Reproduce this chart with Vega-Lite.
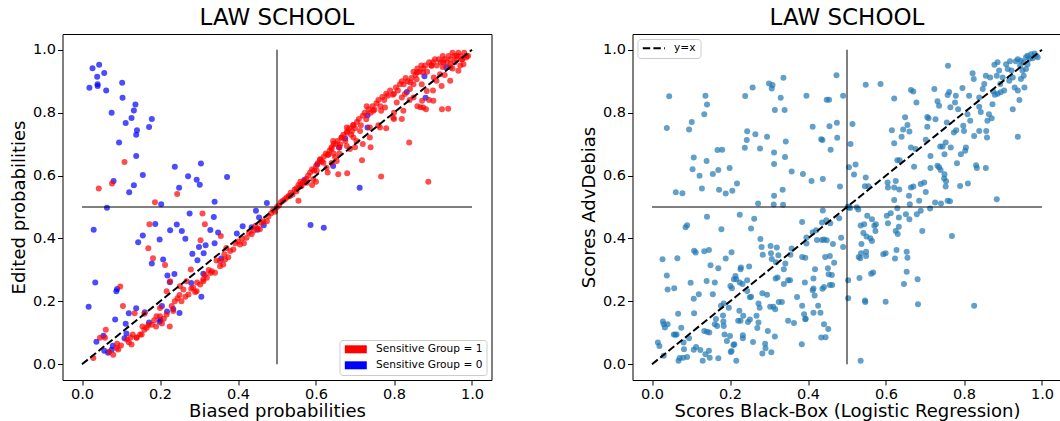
{
"$schema": "https://vega.github.io/schema/vega-lite/v6.json",
"padding": {"left": 9.5, "top": 6, "right": 0, "bottom": 0},
"background": "white",
"spacing": 87,
"config": {
 "font": "DejaVu Sans",
 "view": {"stroke": "black", "strokeWidth": 1},
 "axis": {"grid": false, "domain": false, "tickColor": "black", "tickSize": 5, "tickWidth": 1, "labelColor": "black", "labelFontSize": 14.5, "titleFontSize": 18, "titleFontWeight": "normal", "titleColor": "black", "labelPadding": 2},
 "axisX": {"titlePadding": 2},
 "title": {"fontSize": 23, "fontWeight": "normal", "color": "black", "offset": 4},
 "legend": {"title": null, "fillColor": "white", "strokeColor": "#cccccc", "cornerRadius": 3, "padding": 4, "labelFontSize": 10.6, "labelColor": "black", "symbolOpacity": 1, "rowPadding": 5, "labelOffset": 22}
},
"datasets": {
 "vline": [{"x": 0.5, "y": 0, "y2": 1}],
 "hline": [{"y": 0.5, "x": 0, "x2": 1}],
 "diag": [{"x": 0, "y": 0, "label": "y=x"}, {"x": 1, "y": 1, "label": "y=x"}],
 "left": [
{"x":0.027,"y":0.941,"group":0},{"x":0.044,"y":0.952,"group":0},{"x":0.039,"y":0.914,"group":0},{"x":0.057,"y":0.926,"group":0},{"x":0.019,"y":0.879,"group":0},{"x":0.040,"y":0.890,"group":0},{"x":0.040,"y":0.885,"group":0},{"x":0.062,"y":0.870,"group":0},{"x":0.103,"y":0.895,"group":0},{"x":0.104,"y":0.847,"group":0},{"x":0.076,"y":0.800,"group":0},{"x":0.137,"y":0.826,"group":0},{"x":0.133,"y":0.807,"group":0},{"x":0.127,"y":0.783,"group":0},{"x":0.112,"y":0.767,"group":0},{"x":0.141,"y":0.744,"group":0},{"x":0.139,"y":0.730,"group":0},{"x":0.179,"y":0.780,"group":0},{"x":0.172,"y":0.754,"group":0},{"x":0.095,"y":0.705,"group":0},{"x":0.139,"y":0.662,"group":0},{"x":0.156,"y":0.602,"group":0},{"x":0.133,"y":0.569,"group":0},{"x":0.121,"y":0.547,"group":0},{"x":0.081,"y":0.583,"group":0},{"x":0.064,"y":0.498,"group":0},{"x":0.030,"y":0.428,"group":0},{"x":0.034,"y":0.260,"group":0},{"x":0.017,"y":0.183,"group":0},{"x":0.238,"y":0.628,"group":0},{"x":0.249,"y":0.561,"group":0},{"x":0.272,"y":0.598,"group":0},{"x":0.294,"y":0.587,"group":0},{"x":0.302,"y":0.571,"group":0},{"x":0.305,"y":0.638,"group":0},{"x":0.340,"y":0.517,"group":0},{"x":0.372,"y":0.595,"group":0},{"x":0.203,"y":0.509,"group":0},{"x":0.276,"y":0.479,"group":0},{"x":0.243,"y":0.444,"group":0},{"x":0.226,"y":0.426,"group":0},{"x":0.256,"y":0.424,"group":0},{"x":0.265,"y":0.399,"group":0},{"x":0.329,"y":0.427,"group":0},{"x":0.338,"y":0.468,"group":0},{"x":0.349,"y":0.419,"group":0},{"x":0.188,"y":0.446,"group":0},{"x":0.199,"y":0.397,"group":0},{"x":0.156,"y":0.409,"group":0},{"x":0.144,"y":0.388,"group":0},{"x":0.208,"y":0.333,"group":0},{"x":0.179,"y":0.320,"group":0},{"x":0.283,"y":0.351,"group":0},{"x":0.300,"y":0.373,"group":0},{"x":0.317,"y":0.378,"group":0},{"x":0.340,"y":0.385,"group":0},{"x":0.312,"y":0.353,"group":0},{"x":0.357,"y":0.336,"group":0},{"x":0.296,"y":0.331,"group":0},{"x":0.219,"y":0.282,"group":0},{"x":0.237,"y":0.287,"group":0},{"x":0.225,"y":0.261,"group":0},{"x":0.280,"y":0.258,"group":0},{"x":0.306,"y":0.215,"group":0},{"x":0.311,"y":0.288,"group":0},{"x":0.090,"y":0.239,"group":0},{"x":0.088,"y":0.232,"group":0},{"x":0.139,"y":0.178,"group":0},{"x":0.120,"y":0.162,"group":0},{"x":0.161,"y":0.165,"group":0},{"x":0.205,"y":0.185,"group":0},{"x":0.218,"y":0.168,"group":0},{"x":0.234,"y":0.176,"group":0},{"x":0.250,"y":0.163,"group":0},{"x":0.201,"y":0.141,"group":0},{"x":0.199,"y":0.135,"group":0},{"x":0.172,"y":0.133,"group":0},{"x":0.085,"y":0.142,"group":0},{"x":0.112,"y":0.129,"group":0},{"x":0.114,"y":0.098,"group":0},{"x":0.109,"y":0.083,"group":0},{"x":0.055,"y":0.091,"group":0},{"x":0.037,"y":0.072,"group":0},{"x":0.057,"y":0.043,"group":0},{"x":0.067,"y":0.037,"group":0},{"x":0.076,"y":0.046,"group":0},{"x":0.079,"y":0.059,"group":0},{"x":0.397,"y":0.416,"group":0},{"x":0.412,"y":0.439,"group":0},{"x":0.446,"y":0.488,"group":0},{"x":0.474,"y":0.513,"group":0},{"x":0.450,"y":0.428,"group":0},{"x":0.435,"y":0.436,"group":0},{"x":0.466,"y":0.442,"group":0},{"x":0.454,"y":0.467,"group":0},{"x":0.586,"y":0.443,"group":0},{"x":0.620,"y":0.434,"group":0},{"x":0.570,"y":0.586,"group":0},{"x":0.603,"y":0.635,"group":0},{"x":0.644,"y":0.630,"group":0},{"x":0.659,"y":0.689,"group":0},{"x":0.675,"y":0.718,"group":0},{"x":0.712,"y":0.561,"group":0},{"x":0.732,"y":0.792,"group":0},{"x":0.833,"y":0.866,"group":0},{"x":0.878,"y":0.916,"group":0},{"x":0.881,"y":0.847,"group":0},{"x":0.934,"y":0.944,"group":0},{"x":0.732,"y":0.753,"group":0},
{"x":0.109,"y":0.643,"group":1},{"x":0.043,"y":0.559,"group":1},{"x":0.077,"y":0.575,"group":1},{"x":0.187,"y":0.515,"group":1},{"x":0.244,"y":0.541,"group":1},{"x":0.309,"y":0.479,"group":1},{"x":0.315,"y":0.445,"group":1},{"x":0.173,"y":0.445,"group":1},{"x":0.170,"y":0.369,"group":1},{"x":0.182,"y":0.337,"group":1},{"x":0.213,"y":0.316,"group":1},{"x":0.304,"y":0.394,"group":1},{"x":0.356,"y":0.408,"group":1},{"x":0.279,"y":0.301,"group":1},{"x":0.098,"y":0.247,"group":1},{"x":0.105,"y":0.185,"group":1},{"x":0.135,"y":0.162,"group":1},{"x":0.160,"y":0.161,"group":1},
{"x":0.029,"y":0.020,"group":1},{"x":0.046,"y":0.084,"group":1},{"x":0.061,"y":0.110,"group":1},{"x":0.070,"y":0.040,"group":1},{"x":0.080,"y":0.030,"group":1},{"x":0.093,"y":0.047,"group":1},{"x":0.090,"y":0.065,"group":1},{"x":0.100,"y":0.060,"group":1},{"x":0.115,"y":0.079,"group":1},{"x":0.120,"y":0.070,"group":1},{"x":0.125,"y":0.085,"group":1},{"x":0.130,"y":0.095,"group":1},{"x":0.140,"y":0.085,"group":1},{"x":0.149,"y":0.095,"group":1},{"x":0.155,"y":0.120,"group":1},{"x":0.160,"y":0.110,"group":1},{"x":0.170,"y":0.125,"group":1},{"x":0.179,"y":0.126,"group":1},{"x":0.185,"y":0.140,"group":1},{"x":0.190,"y":0.120,"group":1},{"x":0.200,"y":0.153,"group":1},{"x":0.205,"y":0.130,"group":1},{"x":0.210,"y":0.145,"group":1},{"x":0.217,"y":0.158,"group":1},{"x":0.225,"y":0.120,"group":1},{"x":0.230,"y":0.185,"group":1},{"x":0.234,"y":0.169,"group":1},{"x":0.238,"y":0.200,"group":1},{"x":0.245,"y":0.210,"group":1},{"x":0.250,"y":0.220,"group":1},{"x":0.255,"y":0.200,"group":1},{"x":0.260,"y":0.238,"group":1},{"x":0.265,"y":0.215,"group":1},{"x":0.273,"y":0.222,"group":1},{"x":0.280,"y":0.240,"group":1},{"x":0.285,"y":0.243,"group":1},{"x":0.290,"y":0.230,"group":1},{"x":0.295,"y":0.260,"group":1},{"x":0.303,"y":0.254,"group":1},{"x":0.311,"y":0.264,"group":1},{"x":0.315,"y":0.285,"group":1},{"x":0.320,"y":0.275,"group":1},{"x":0.325,"y":0.300,"group":1},{"x":0.330,"y":0.290,"group":1},{"x":0.341,"y":0.291,"group":1},{"x":0.345,"y":0.330,"group":1},{"x":0.354,"y":0.312,"group":1},{"x":0.362,"y":0.317,"group":1},{"x":0.365,"y":0.350,"group":1},{"x":0.370,"y":0.370,"group":1},{"x":0.375,"y":0.340,"group":1},{"x":0.380,"y":0.360,"group":1},{"x":0.388,"y":0.365,"group":1},{"x":0.393,"y":0.385,"group":1},{"x":0.400,"y":0.390,"group":1},{"x":0.405,"y":0.381,"group":1},{"x":0.410,"y":0.400,"group":1},{"x":0.415,"y":0.385,"group":1},{"x":0.422,"y":0.402,"group":1},{"x":0.428,"y":0.418,"group":1},{"x":0.435,"y":0.413,"group":1},{"x":0.440,"y":0.425,"group":1},{"x":0.445,"y":0.440,"group":1},{"x":0.450,"y":0.432,"group":1},{"x":0.456,"y":0.429,"group":1},{"x":0.460,"y":0.450,"group":1},{"x":0.465,"y":0.455,"group":1},{"x":0.474,"y":0.455,"group":1},{"x":0.478,"y":0.470,"group":1},{"x":0.485,"y":0.480,"group":1},{"x":0.490,"y":0.490,"group":1},{"x":0.495,"y":0.485,"group":1},
{"x":0.226,"y":0.264,"group":1},{"x":0.251,"y":0.248,"group":1},{"x":0.268,"y":0.264,"group":1},{"x":0.294,"y":0.232,"group":1},{"x":0.311,"y":0.270,"group":1},{"x":0.333,"y":0.296,"group":1},{"x":0.354,"y":0.328,"group":1},{"x":0.367,"y":0.333,"group":1},{"x":0.217,"y":0.232,"group":1},{"x":0.200,"y":0.179,"group":1},{"x":0.191,"y":0.153,"group":1},{"x":0.166,"y":0.116,"group":1},{"x":0.153,"y":0.095,"group":1},{"x":0.140,"y":0.084,"group":1},{"x":0.127,"y":0.063,"group":1},{"x":0.089,"y":0.052,"group":1},{"x":0.059,"y":0.084,"group":1},
{"x":0.500,"y":0.500,"group":1},{"x":0.505,"y":0.505,"group":1},{"x":0.510,"y":0.515,"group":1},{"x":0.515,"y":0.520,"group":1},{"x":0.520,"y":0.525,"group":1},{"x":0.525,"y":0.530,"group":1},{"x":0.530,"y":0.535,"group":1},{"x":0.535,"y":0.545,"group":1},{"x":0.540,"y":0.540,"group":1},{"x":0.545,"y":0.555,"group":1},{"x":0.550,"y":0.560,"group":1},{"x":0.550,"y":0.550,"group":1},{"x":0.555,"y":0.570,"group":1},{"x":0.560,"y":0.565,"group":1},{"x":0.560,"y":0.580,"group":1},{"x":0.565,"y":0.575,"group":1},{"x":0.570,"y":0.580,"group":1},{"x":0.575,"y":0.590,"group":1},{"x":0.580,"y":0.600,"group":1},{"x":0.585,"y":0.610,"group":1},{"x":0.590,"y":0.620,"group":1},{"x":0.595,"y":0.615,"group":1},{"x":0.600,"y":0.630,"group":1},{"x":0.605,"y":0.640,"group":1},{"x":0.610,"y":0.650,"group":1},{"x":0.611,"y":0.652,"group":1},{"x":0.615,"y":0.645,"group":1},{"x":0.620,"y":0.660,"group":1},{"x":0.625,"y":0.670,"group":1},{"x":0.630,"y":0.665,"group":1},{"x":0.635,"y":0.680,"group":1},{"x":0.640,"y":0.690,"group":1},{"x":0.645,"y":0.700,"group":1},{"x":0.645,"y":0.670,"group":1},{"x":0.650,"y":0.700,"group":1},{"x":0.655,"y":0.710,"group":1},{"x":0.660,"y":0.690,"group":1},{"x":0.665,"y":0.720,"group":1},{"x":0.670,"y":0.730,"group":1},{"x":0.675,"y":0.710,"group":1},{"x":0.679,"y":0.753,"group":1},{"x":0.680,"y":0.740,"group":1},{"x":0.685,"y":0.750,"group":1},{"x":0.690,"y":0.730,"group":1},{"x":0.695,"y":0.760,"group":1},{"x":0.700,"y":0.750,"group":1},{"x":0.705,"y":0.770,"group":1},{"x":0.710,"y":0.780,"group":1},{"x":0.715,"y":0.760,"group":1},{"x":0.720,"y":0.790,"group":1},{"x":0.725,"y":0.800,"group":1},{"x":0.729,"y":0.779,"group":1},{"x":0.730,"y":0.820,"group":1},{"x":0.735,"y":0.810,"group":1},{"x":0.740,"y":0.800,"group":1},{"x":0.745,"y":0.820,"group":1},{"x":0.750,"y":0.810,"group":1},{"x":0.755,"y":0.830,"group":1},{"x":0.760,"y":0.840,"group":1},{"x":0.765,"y":0.820,"group":1},{"x":0.770,"y":0.850,"group":1},{"x":0.775,"y":0.840,"group":1},{"x":0.780,"y":0.860,"group":1},{"x":0.784,"y":0.854,"group":1},{"x":0.790,"y":0.870,"group":1},{"x":0.800,"y":0.860,"group":1},{"x":0.805,"y":0.880,"group":1},{"x":0.810,"y":0.870,"group":1},{"x":0.815,"y":0.890,"group":1},{"x":0.820,"y":0.900,"group":1},{"x":0.825,"y":0.890,"group":1},{"x":0.830,"y":0.910,"group":1},{"x":0.835,"y":0.900,"group":1},{"x":0.842,"y":0.896,"group":1},{"x":0.845,"y":0.910,"group":1},{"x":0.850,"y":0.930,"group":1},{"x":0.855,"y":0.920,"group":1},{"x":0.859,"y":0.928,"group":1},{"x":0.860,"y":0.940,"group":1},{"x":0.865,"y":0.930,"group":1},{"x":0.870,"y":0.950,"group":1},{"x":0.875,"y":0.940,"group":1},{"x":0.880,"y":0.950,"group":1},{"x":0.885,"y":0.930,"group":1},{"x":0.890,"y":0.960,"group":1},{"x":0.895,"y":0.950,"group":1},{"x":0.900,"y":0.960,"group":1},{"x":0.902,"y":0.912,"group":1},{"x":0.905,"y":0.970,"group":1},{"x":0.910,"y":0.950,"group":1},{"x":0.915,"y":0.970,"group":1},{"x":0.920,"y":0.960,"group":1},{"x":0.925,"y":0.980,"group":1},{"x":0.930,"y":0.970,"group":1},{"x":0.935,"y":0.960,"group":1},{"x":0.940,"y":0.980,"group":1},{"x":0.945,"y":0.970,"group":1},{"x":0.950,"y":0.990,"group":1},{"x":0.955,"y":0.980,"group":1},{"x":0.960,"y":0.970,"group":1},{"x":0.965,"y":0.990,"group":1},{"x":0.970,"y":0.980,"group":1},{"x":0.975,"y":0.970,"group":1},{"x":0.980,"y":0.990,"group":1},{"x":0.990,"y":0.980,"group":1},{"x":0.985,"y":0.975,"group":1},{"x":0.945,"y":0.955,"group":1},{"x":0.925,"y":0.945,"group":1},
{"x":0.797,"y":0.857,"group":1},{"x":0.828,"y":0.859,"group":1},{"x":0.858,"y":0.906,"group":1},{"x":0.874,"y":0.928,"group":1},{"x":0.897,"y":0.949,"group":1},{"x":0.926,"y":0.960,"group":1},{"x":0.961,"y":0.981,"group":1},{"x":0.767,"y":0.806,"group":1},{"x":0.747,"y":0.806,"group":1},{"x":0.692,"y":0.742,"group":1},{"x":0.696,"y":0.761,"group":1},{"x":0.666,"y":0.721,"group":1},{"x":0.640,"y":0.684,"group":1},{"x":0.632,"y":0.667,"group":1},{"x":0.619,"y":0.641,"group":1},{"x":0.602,"y":0.615,"group":1},{"x":0.563,"y":0.567,"group":1},{"x":0.533,"y":0.535,"group":1},{"x":0.649,"y":0.658,"group":1},{"x":0.679,"y":0.694,"group":1},{"x":0.713,"y":0.742,"group":1},{"x":0.738,"y":0.753,"group":1},{"x":0.777,"y":0.816,"group":1},{"x":0.807,"y":0.832,"group":1},{"x":0.820,"y":0.848,"group":1},{"x":0.841,"y":0.875,"group":1},{"x":0.850,"y":0.890,"group":1},{"x":0.871,"y":0.890,"group":1},{"x":0.884,"y":0.869,"group":1},{"x":0.909,"y":0.901,"group":1},{"x":0.918,"y":0.922,"group":1},{"x":0.944,"y":0.944,"group":1},{"x":0.956,"y":0.960,"group":1},{"x":0.974,"y":0.970,"group":1},{"x":0.986,"y":0.981,"group":1},{"x":0.944,"y":0.901,"group":1},{"x":0.965,"y":0.933,"group":1},{"x":0.978,"y":0.954,"group":1},{"x":0.922,"y":0.885,"group":1},{"x":0.901,"y":0.838,"group":1},{"x":0.875,"y":0.816,"group":1},{"x":0.850,"y":0.848,"group":1},{"x":0.824,"y":0.806,"group":1},{"x":0.798,"y":0.784,"group":1},{"x":0.764,"y":0.753,"group":1},{"x":0.738,"y":0.721,"group":1},{"x":0.704,"y":0.710,"group":1},{"x":0.687,"y":0.684,"group":1},{"x":0.653,"y":0.646,"group":1},{"x":0.627,"y":0.625,"group":1},{"x":0.593,"y":0.588,"group":1},{"x":0.576,"y":0.577,"group":1},{"x":0.644,"y":0.710,"group":1},{"x":0.662,"y":0.699,"group":1},{"x":0.696,"y":0.721,"group":1},{"x":0.679,"y":0.736,"group":1},
{"x":0.839,"y":0.705,"group":1},{"x":0.888,"y":0.580,"group":1},{"x":0.767,"y":0.597,"group":1},{"x":0.718,"y":0.649,"group":1},{"x":0.680,"y":0.607,"group":1},{"x":0.657,"y":0.604,"group":1},{"x":0.939,"y":0.812,"group":1},{"x":0.882,"y":0.811,"group":1},{"x":0.868,"y":0.817,"group":1},{"x":0.872,"y":0.838,"group":1},{"x":0.923,"y":0.811,"group":1},{"x":0.630,"y":0.610,"group":1},{"x":0.660,"y":0.670,"group":1},{"x":0.740,"y":0.690,"group":1},{"x":0.720,"y":0.700,"group":1},{"x":0.780,"y":0.750,"group":1},{"x":0.800,"y":0.780,"group":1},{"x":0.820,"y":0.780,"group":1},{"x":0.860,"y":0.820,"group":1},{"x":0.890,"y":0.840,"group":1},{"x":0.900,"y":0.870,"group":1},{"x":0.930,"y":0.920,"group":1},{"x":0.950,"y":0.940,"group":1},{"x":0.970,"y":0.950,"group":1},{"x":0.555,"y":0.520,"group":1},{"x":0.590,"y":0.570,"group":1},{"x":0.600,"y":0.580,"group":1},{"x":0.640,"y":0.640,"group":1},{"x":0.700,"y":0.690,"group":1},{"x":0.760,"y":0.760,"group":1},{"x":0.800,"y":0.800,"group":1},{"x":0.840,"y":0.840,"group":1}
 ],
 "right": [
{"x":0.044,"y":0.852},{"x":0.038,"y":0.751},{"x":0.137,"y":0.854},{"x":0.141,"y":0.826},{"x":0.134,"y":0.795},{"x":0.102,"y":0.770},{"x":0.095,"y":0.746},{"x":0.104,"y":0.620},{"x":0.107,"y":0.657},{"x":0.140,"y":0.646},{"x":0.122,"y":0.599},{"x":0.156,"y":0.605},{"x":0.128,"y":0.559},{"x":0.170,"y":0.618},{"x":0.168,"y":0.681},{"x":0.180,"y":0.682},{"x":0.199,"y":0.624},{"x":0.172,"y":0.555},{"x":0.189,"y":0.543},{"x":0.206,"y":0.552},{"x":0.218,"y":0.575},{"x":0.061,"y":0.547},{"x":0.078,"y":0.544},{"x":0.258,"y":0.880},{"x":0.239,"y":0.853},{"x":0.300,"y":0.893},{"x":0.309,"y":0.888},{"x":0.307,"y":0.877},{"x":0.337,"y":0.911},{"x":0.330,"y":0.847},{"x":0.315,"y":0.808},{"x":0.340,"y":0.808},{"x":0.244,"y":0.741},{"x":0.243,"y":0.713},{"x":0.265,"y":0.731},{"x":0.295,"y":0.723},{"x":0.238,"y":0.688},{"x":0.277,"y":0.686},{"x":0.313,"y":0.673},{"x":0.343,"y":0.708},{"x":0.341,"y":0.659},{"x":0.313,"y":0.637},{"x":0.358,"y":0.613},{"x":0.335,"y":0.555},{"x":0.313,"y":0.536},{"x":0.312,"y":0.508},{"x":0.336,"y":0.507},{"x":0.272,"y":0.511},{"x":0.225,"y":0.475},{"x":0.262,"y":0.463},{"x":0.254,"y":0.432},{"x":0.178,"y":0.429},{"x":0.141,"y":0.469},{"x":0.090,"y":0.442},{"x":0.086,"y":0.436},{"x":0.387,"y":0.605},{"x":0.396,"y":0.854},{"x":0.409,"y":0.583},{"x":0.412,"y":0.755},{"x":0.434,"y":0.715},{"x":0.437,"y":0.713},{"x":0.438,"y":0.589},{"x":0.448,"y":0.841},{"x":0.454,"y":0.841},{"x":0.455,"y":0.757},{"x":0.458,"y":0.682},{"x":0.473,"y":0.919},{"x":0.474,"y":0.768},{"x":0.475,"y":0.720},{"x":0.490,"y":0.854},{"x":0.482,"y":0.565},{"x":0.385,"y":0.452},{"x":0.438,"y":0.489},{"x":0.447,"y":0.458},{"x":0.480,"y":0.464},{"x":0.436,"y":0.451},{"x":0.457,"y":0.448},{"x":0.485,"y":0.402},{"x":0.490,"y":0.373},{"x":0.464,"y":0.382},{"x":0.448,"y":0.394},{"x":0.436,"y":0.395},{"x":0.441,"y":0.397},{"x":0.423,"y":0.395},{"x":0.396,"y":0.403},{"x":0.412,"y":0.420},{"x":0.421,"y":0.426},{"x":0.355,"y":0.348},{"x":0.358,"y":0.368},{"x":0.278,"y":0.398},{"x":0.304,"y":0.376},{"x":0.281,"y":0.373},{"x":0.305,"y":0.353},{"x":0.307,"y":0.335},{"x":0.320,"y":0.371},{"x":0.324,"y":0.347},{"x":0.284,"y":0.348},{"x":0.318,"y":0.324},{"x":0.342,"y":0.320},{"x":0.338,"y":0.302},{"x":0.322,"y":0.276},{"x":0.338,"y":0.255},{"x":0.317,"y":0.273},{"x":0.349,"y":0.267},{"x":0.354,"y":0.267},{"x":0.385,"y":0.341},{"x":0.396,"y":0.384},{"x":0.393,"y":0.339},{"x":0.392,"y":0.260},{"x":0.414,"y":0.273},{"x":0.418,"y":0.302},{"x":0.444,"y":0.341},{"x":0.456,"y":0.344},{"x":0.467,"y":0.323},{"x":0.451,"y":0.305},{"x":0.453,"y":0.286},{"x":0.461,"y":0.284},{"x":0.456,"y":0.252},{"x":0.462,"y":0.252},{"x":0.441,"y":0.246},{"x":0.437,"y":0.240},{"x":0.414,"y":0.241},{"x":0.412,"y":0.235},{"x":0.417,"y":0.219},{"x":0.372,"y":0.214},{"x":0.385,"y":0.186},{"x":0.390,"y":0.159},{"x":0.394,"y":0.145},{"x":0.393,"y":0.143},{"x":0.414,"y":0.164},{"x":0.426,"y":0.186},{"x":0.432,"y":0.164},{"x":0.441,"y":0.127},{"x":0.452,"y":0.112},{"x":0.434,"y":0.085},{"x":0.445,"y":0.086},{"x":0.384,"y":0.064},{"x":0.364,"y":0.131},{"x":0.349,"y":0.138},{"x":0.333,"y":0.198},{"x":0.316,"y":0.175},{"x":0.311,"y":0.183},{"x":0.303,"y":0.183},{"x":0.295,"y":0.221},{"x":0.283,"y":0.226},{"x":0.273,"y":0.193},{"x":0.276,"y":0.180},{"x":0.268,"y":0.154},{"x":0.273,"y":0.133},{"x":0.251,"y":0.142},{"x":0.246,"y":0.134},{"x":0.254,"y":0.215},{"x":0.251,"y":0.213},{"x":0.244,"y":0.233},{"x":0.232,"y":0.255},{"x":0.225,"y":0.260},{"x":0.216,"y":0.270},{"x":0.214,"y":0.281},{"x":0.227,"y":0.302},{"x":0.228,"y":0.308},{"x":0.249,"y":0.311},{"x":0.244,"y":0.267},{"x":0.201,"y":0.249},{"x":0.205,"y":0.242},{"x":0.197,"y":0.180},{"x":0.184,"y":0.193},{"x":0.177,"y":0.186},{"x":0.182,"y":0.155},{"x":0.183,"y":0.136},{"x":0.184,"y":0.122},{"x":0.186,"y":0.095},{"x":0.192,"y":0.074},{"x":0.200,"y":0.090},{"x":0.202,"y":0.039},{"x":0.204,"y":0.042},{"x":0.216,"y":0.011},{"x":0.211,"y":0.064},{"x":0.209,"y":0.061},{"x":0.224,"y":0.170},{"x":0.221,"y":0.138},{"x":0.227,"y":0.138},{"x":0.234,"y":0.154},{"x":0.233,"y":0.092},{"x":0.233,"y":0.083},{"x":0.259,"y":0.071},{"x":0.270,"y":0.115},{"x":0.283,"y":0.034},{"x":0.290,"y":0.065},{"x":0.291,"y":0.051},{"x":0.297,"y":0.106},{"x":0.306,"y":0.038},{"x":0.315,"y":0.088},{"x":0.325,"y":0.198},{"x":0.164,"y":0.144},{"x":0.161,"y":0.127},{"x":0.167,"y":0.122},{"x":0.147,"y":0.101},{"x":0.134,"y":0.106},{"x":0.141,"y":0.103},{"x":0.146,"y":0.043},{"x":0.148,"y":0.021},{"x":0.170,"y":0.019},{"x":0.130,"y":0.011},{"x":0.137,"y":0.032},{"x":0.124,"y":0.045},{"x":0.107,"y":0.046},{"x":0.113,"y":0.055},{"x":0.082,"y":0.048},{"x":0.080,"y":0.021},{"x":0.071,"y":0.020},{"x":0.068,"y":0.011},{"x":0.090,"y":0.023},{"x":0.095,"y":0.083},{"x":0.081,"y":0.069},{"x":0.075,"y":0.116},{"x":0.056,"y":0.095},{"x":0.060,"y":0.094},{"x":0.063,"y":0.095},{"x":0.067,"y":0.161},{"x":0.040,"y":0.127},{"x":0.030,"y":0.127},{"x":0.028,"y":0.136},{"x":0.033,"y":0.117},{"x":0.015,"y":0.069},{"x":0.019,"y":0.058},{"x":0.030,"y":0.027},{"x":0.027,"y":0.334},{"x":0.038,"y":0.282},{"x":0.040,"y":0.238},{"x":0.057,"y":0.242},{"x":0.065,"y":0.337},{"x":0.099,"y":0.259},{"x":0.108,"y":0.361},{"x":0.112,"y":0.355},{"x":0.134,"y":0.359},{"x":0.146,"y":0.363},{"x":0.140,"y":0.265},{"x":0.150,"y":0.315},{"x":0.161,"y":0.260},{"x":0.170,"y":0.305},{"x":0.156,"y":0.223},{"x":0.120,"y":0.223},{"x":0.107,"y":0.208},{"x":0.108,"y":0.162},{"x":0.189,"y":0.336},{"x":0.204,"y":0.356},{"x":0.210,"y":0.270},
{"x":0.502,"y":0.501},{"x":0.505,"y":0.499},{"x":0.508,"y":0.497},{"x":0.525,"y":0.499},{"x":0.529,"y":0.492},{"x":0.505,"y":0.626},{"x":0.509,"y":0.700},{"x":0.514,"y":0.764},{"x":0.518,"y":0.603},{"x":0.522,"y":0.635},{"x":0.503,"y":0.210},{"x":0.503,"y":0.267},{"x":0.535,"y":0.011},{"x":0.532,"y":0.274},{"x":0.547,"y":0.198},{"x":0.546,"y":0.203},{"x":0.599,"y":0.199},{"x":0.536,"y":0.353},{"x":0.530,"y":0.341},{"x":0.534,"y":0.337},{"x":0.549,"y":0.344},{"x":0.549,"y":0.358},{"x":0.537,"y":0.382},{"x":0.544,"y":0.445},{"x":0.535,"y":0.441},{"x":0.542,"y":0.417},{"x":0.550,"y":0.406},{"x":0.560,"y":0.401},{"x":0.564,"y":0.392},{"x":0.562,"y":0.288},{"x":0.567,"y":0.292},{"x":0.552,"y":0.472},{"x":0.546,"y":0.566},{"x":0.555,"y":0.566},{"x":0.548,"y":0.594},{"x":0.548,"y":0.889},{"x":0.586,"y":0.891},{"x":0.564,"y":0.461},{"x":0.573,"y":0.424},{"x":0.570,"y":0.440},{"x":0.574,"y":0.445},{"x":0.604,"y":0.578},{"x":0.605,"y":0.562},{"x":0.602,"y":0.472},{"x":0.605,"y":0.448},{"x":0.593,"y":0.350},{"x":0.599,"y":0.353},{"x":0.612,"y":0.480},{"x":0.621,"y":0.522},{"x":0.621,"y":0.562},{"x":0.634,"y":0.556},{"x":0.629,"y":0.496},{"x":0.633,"y":0.467},{"x":0.621,"y":0.845},{"x":0.621,"y":0.703},{"x":0.615,"y":0.744},{"x":0.625,"y":0.583},{"x":0.623,"y":0.336},{"x":0.625,"y":0.424},{"x":0.627,"y":0.363},{"x":0.630,"y":0.414},{"x":0.633,"y":0.437},{"x":0.646,"y":0.255},{"x":0.629,"y":0.649},{"x":0.635,"y":0.649},{"x":0.640,"y":0.723},{"x":0.644,"y":0.746},{"x":0.649,"y":0.785},{"x":0.655,"y":0.761},{"x":0.660,"y":0.740},{"x":0.653,"y":0.294},{"x":0.655,"y":0.339},{"x":0.653,"y":0.358},{"x":0.660,"y":0.461},{"x":0.659,"y":0.536},{"x":0.661,"y":0.509},{"x":0.651,"y":0.477},{"x":0.664,"y":0.689},{"x":0.664,"y":0.872},{"x":0.670,"y":0.867},{"x":0.670,"y":0.565},{"x":0.664,"y":0.562},{"x":0.678,"y":0.832},{"x":0.672,"y":0.628},{"x":0.676,"y":0.684},{"x":0.679,"y":0.477},{"x":0.681,"y":0.270},{"x":0.682,"y":0.191},{"x":0.685,"y":0.520},{"x":0.689,"y":0.573},{"x":0.693,"y":0.424},{"x":0.689,"y":0.488},{"x":0.702,"y":0.548},{"x":0.698,"y":0.578},{"x":0.706,"y":0.786},{"x":0.709,"y":0.782},{"x":0.706,"y":0.755},{"x":0.702,"y":0.714},{"x":0.714,"y":0.662},{"x":0.714,"y":0.624},{"x":0.713,"y":0.495},{"x":0.724,"y":0.875},{"x":0.727,"y":0.779},{"x":0.732,"y":0.836},{"x":0.736,"y":0.822},{"x":0.726,"y":0.514},{"x":0.736,"y":0.626},{"x":0.732,"y":0.631},{"x":0.740,"y":0.618},{"x":0.741,"y":0.511},{"x":0.749,"y":0.591},{"x":0.750,"y":0.604},{"x":0.754,"y":0.582},{"x":0.745,"y":0.692},{"x":0.739,"y":0.692},{"x":0.750,"y":0.668},{"x":0.753,"y":0.565},{"x":0.753,"y":0.705},{"x":0.756,"y":0.769},{"x":0.758,"y":0.520},{"x":0.764,"y":0.518},{"x":0.758,"y":0.856},{"x":0.762,"y":0.866},{"x":0.759,"y":0.949},{"x":0.769,"y":0.408},{"x":0.765,"y":0.817},{"x":0.766,"y":0.689},{"x":0.779,"y":0.854},{"x":0.777,"y":0.832},{"x":0.774,"y":0.737},{"x":0.780,"y":0.744},{"x":0.782,"y":0.639},{"x":0.792,"y":0.668},{"x":0.796,"y":0.878},{"x":0.790,"y":0.567},{"x":0.785,"y":0.811},{"x":0.798,"y":0.758},{"x":0.800,"y":0.742},{"x":0.803,"y":0.679},{"x":0.805,"y":0.689},{"x":0.809,"y":0.795},{"x":0.813,"y":0.854},{"x":0.816,"y":0.774},{"x":0.810,"y":0.575},{"x":0.822,"y":0.925},{"x":0.825,"y":0.907},{"x":0.826,"y":0.186},{"x":0.826,"y":0.726},{"x":0.831,"y":0.633},{"x":0.833,"y":0.624},{"x":0.839,"y":0.742},{"x":0.839,"y":0.819},{"x":0.839,"y":0.848},{"x":0.843,"y":0.802},{"x":0.848,"y":0.875},{"x":0.857,"y":0.742},{"x":0.856,"y":0.624},{"x":0.859,"y":0.721},{"x":0.860,"y":0.774},{"x":0.864,"y":0.795},{"x":0.871,"y":0.782},{"x":0.852,"y":0.891},{"x":0.856,"y":0.917},{"x":0.867,"y":0.912},{"x":0.873,"y":0.827},{"x":0.875,"y":0.867},{"x":0.884,"y":0.525},{"x":0.884,"y":0.917},{"x":0.878,"y":0.952},{"x":0.886,"y":0.960},{"x":0.890,"y":0.934},{"x":0.893,"y":0.891},{"x":0.899,"y":0.912},{"x":0.908,"y":0.954},{"x":0.912,"y":0.939},{"x":0.918,"y":0.963},{"x":0.922,"y":0.934},{"x":0.925,"y":0.912},{"x":0.930,"y":0.880},{"x":0.925,"y":0.811},{"x":0.938,"y":0.723},{"x":0.942,"y":0.840},{"x":0.938,"y":0.870},{"x":0.946,"y":0.907},{"x":0.950,"y":0.934},{"x":0.953,"y":0.960},{"x":0.959,"y":0.976},{"x":0.963,"y":0.981},{"x":0.968,"y":0.971},{"x":0.972,"y":0.986},{"x":0.976,"y":0.973},{"x":0.981,"y":0.988},{"x":0.985,"y":0.981},{"x":0.989,"y":0.976},{"x":0.953,"y":0.917},{"x":0.944,"y":0.949},{"x":0.933,"y":0.963},{"x":0.916,"y":0.901},{"x":0.903,"y":0.870},{"x":0.894,"y":0.865},{"x":0.886,"y":0.860},{"x":0.879,"y":0.857},{"x":0.955,"y":0.880},{"x":0.959,"y":0.939},{"x":0.963,"y":0.954},{"x":0.946,"y":0.965},{"x":0.938,"y":0.970}
 ]
},
"resolve": {"scale": {"color": "independent"}, "legend": {"color": "independent"}},
"hconcat": [
 {
  "width": 429, "height": 346,
  "title": "LAW SCHOOL",
  "layer": [
   {"data": {"name": "left"}, "mark": {"type": "circle", "size": 36, "opacity": 0.7},
    "encoding": {
     "x": {"field": "x", "type": "quantitative", "scale": {"domain": [-0.05, 1.05], "nice": false, "zero": false}, "axis": {"values": [0, 0.2, 0.4, 0.6, 0.8, 1], "format": ".1f", "title": "Biased probabilities"}},
     "y": {"field": "y", "type": "quantitative", "scale": {"domain": [-0.05, 1.05], "nice": false, "zero": false}, "axis": {"values": [0, 0.2, 0.4, 0.6, 0.8, 1], "format": ".1f", "title": "Edited probabilities"}},
     "color": {"field": "group", "type": "nominal", "scale": {"domain": [1, 0], "range": ["#ff0000", "#0000ff"]},
      "legend": {"orient": "bottom-right", "offset": 5, "labelExpr": "'Sensitive Group = ' + datum.label", "symbolType": "M-1,-1L4.5,-1L4.5,1L-1,1Z", "symbolSize": 64, "symbolStrokeWidth": 0}}
    }},
   {"data": {"name": "vline"}, "mark": {"type": "rule", "color": "black", "strokeWidth": 1},
    "encoding": {"x": {"field": "x", "type": "quantitative"}, "y": {"field": "y", "type": "quantitative"}, "y2": {"field": "y2"}}},
   {"data": {"name": "hline"}, "mark": {"type": "rule", "color": "black", "strokeWidth": 1},
    "encoding": {"y": {"field": "y", "type": "quantitative"}, "x": {"field": "x", "type": "quantitative"}, "x2": {"field": "x2"}}},
   {"data": {"name": "diag"}, "mark": {"type": "line", "color": "black", "strokeWidth": 2, "strokeDash": [7.4, 3.2]},
    "encoding": {"x": {"field": "x", "type": "quantitative"}, "y": {"field": "y", "type": "quantitative"}}}
  ]
 },
 {
  "width": 429, "height": 346,
  "title": "LAW SCHOOL",
  "layer": [
   {"data": {"name": "right"}, "mark": {"type": "circle", "size": 36, "opacity": 0.7, "color": "#1f77b4"},
    "encoding": {
     "x": {"field": "x", "type": "quantitative", "scale": {"domain": [-0.05, 1.05], "nice": false, "zero": false}, "axis": {"values": [0, 0.2, 0.4, 0.6, 0.8, 1], "format": ".1f", "title": "Scores Black-Box (Logistic Regression)"}},
     "y": {"field": "y", "type": "quantitative", "scale": {"domain": [-0.05, 1.05], "nice": false, "zero": false}, "axis": {"values": [0, 0.2, 0.4, 0.6, 0.8, 1], "format": ".1f", "title": "Scores AdvDebias"}}
    }},
   {"data": {"name": "vline"}, "mark": {"type": "rule", "color": "black", "strokeWidth": 1},
    "encoding": {"x": {"field": "x", "type": "quantitative"}, "y": {"field": "y", "type": "quantitative"}, "y2": {"field": "y2"}}},
   {"data": {"name": "hline"}, "mark": {"type": "rule", "color": "black", "strokeWidth": 1},
    "encoding": {"y": {"field": "y", "type": "quantitative"}, "x": {"field": "x", "type": "quantitative"}, "x2": {"field": "x2"}}},
   {"data": {"name": "diag"}, "mark": {"type": "line", "strokeWidth": 2, "strokeDash": [7.4, 3.2]},
    "encoding": {"x": {"field": "x", "type": "quantitative"}, "y": {"field": "y", "type": "quantitative"},
     "color": {"field": "label", "type": "nominal", "scale": {"range": ["black"]},
      "legend": {"orient": "top-left", "offset": 5, "symbolType": "M-1,0L4.5,0", "symbolSize": 64, "symbolStrokeWidth": 2, "symbolDash": [7.4, 3.2]}}}}
  ]
 }
]
}
